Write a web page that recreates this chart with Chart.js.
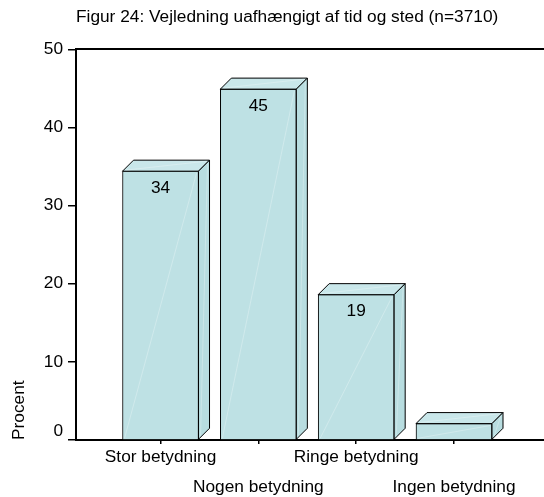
<!DOCTYPE html>
<html>
<head>
<meta charset="utf-8">
<script src="https://cdn.jsdelivr.net/npm/chart.js@4/dist/chart.umd.min.js"></script>
<style>
  html, body { margin: 0; padding: 0; background: #fff; }
  #wrap { width: 544px; height: 497px; }
</style>
</head>
<body>
<div id="wrap"><canvas id="chart" width="544" height="497"></canvas></div>
<script>
// ── Data ─────────────────────────────────────────────────
const categories = ['Stor betydning', 'Nogen betydning', 'Ringe betydning', 'Ingen betydning'];
const catPos     = [1, 2, 3, 4];
const percent    = [34.4, 44.9, 18.6, 2.1];
const yTicks     = [0, 10, 20, 30, 40, 50];
const titleText  = 'Figur 24: Vejledning uafhængigt af tid og sted (n=3710)';
const yTitle     = 'Procent';

const FONT = 'Liberation Sans, Arial, Helvetica, sans-serif';
const faceFront = '#BEE1E4';
const faceTop   = '#C9E7EA';
const faceSide  = '#B8DDE0';
const DEPTH = 11;

// top/side faces + value labels, drawn on the bars Chart.js placed
const bar3d = {
  id: 'bar3d',
  afterDatasetsDraw(chart) {
    const ctx = chart.ctx;
    const meta = chart.getDatasetMeta(0);
    ctx.save();
    ctx.lineJoin = 'miter';
    meta.data.forEach((bar, i) => {
      const { x, y, base, width } = bar.getProps(['x', 'y', 'base', 'width'], true);
      const x0 = x - width / 2, x1 = x + width / 2, d = DEPTH;

      ctx.lineWidth = 1;
      ctx.strokeStyle = '#000';
      // top face
      ctx.beginPath();
      ctx.moveTo(x0, y); ctx.lineTo(x0 + d, y - d); ctx.lineTo(x1 + d, y - d); ctx.lineTo(x1, y);
      ctx.closePath();
      ctx.fillStyle = faceTop; ctx.fill(); ctx.stroke();
      // side face
      ctx.beginPath();
      ctx.moveTo(x1, y); ctx.lineTo(x1 + d, y - d); ctx.lineTo(x1 + d, base - d); ctx.lineTo(x1, base);
      ctx.closePath();
      ctx.fillStyle = faceSide; ctx.fill(); ctx.stroke();

      // faint shading seams like the original export
      ctx.strokeStyle = 'rgba(255,255,255,0.35)';
      ctx.lineWidth = 0.8;
      ctx.beginPath();
      ctx.moveTo(x0 + 2, base - 1); ctx.lineTo(x1 - 2, y + 2);
      ctx.moveTo(x1 + 2, base - 3); ctx.lineTo(x1 + d - 2, y - d + 3);
      ctx.moveTo(x0 + 3, y - 1); ctx.lineTo(x1 + d - 3, y - d + 1);
      ctx.stroke();

      // value label (only where it fits inside the bar)
      if (base - y > 40) {
        ctx.fillStyle = '#000';
        ctx.font = '17.3px ' + FONT;
        ctx.textAlign = 'center';
        ctx.textBaseline = 'middle';
        ctx.fillText(String(Math.round(percent[i])), x, y + 17);
      }
    });
    ctx.restore();
  }
};

new Chart(document.getElementById('chart'), {
  type: 'bar',
  data: {
    datasets: [{
      data: catPos.map((p, i) => ({ x: p, y: percent[i] })),
      xAxisID: 'x',
      yAxisID: 'y',
      backgroundColor: faceFront,
      borderColor: '#000',
      borderWidth: 1,
      borderSkipped: 'start',
      barThickness: 76,
    }]
  },
  options: {
    responsive: false,
    animation: false,
    layout: { padding: 0 },
    plugins: {
      legend: { display: false },
      tooltip: { enabled: false },
      title: {
        display: true, text: titleText, align: 'start', fullSize: false, color: '#000',
        font: { family: FONT, size: 17.3, weight: 'normal' },
        padding: { top: 7, bottom: 21.5 }
      }
    },
    scales: {
      x: {
        type: 'linear', position: 'bottom', min: 0.136, max: 4.92, offset: false,
        afterBuildTicks: s => { s.ticks = catPos.map(v => ({ value: v })); },
        afterFit: s => { s.height = 57; },
        grid: { display: true, drawOnChartArea: false, offset: false, tickLength: 4, color: '#000', lineWidth: 1.5 },
        border: { display: true, color: '#000', width: 2 },
        ticks: {
          autoSkip: false, maxRotation: 0, minRotation: 0, padding: -1, color: '#000',
          font: { family: FONT, size: 17.3, lineHeight: 1.7 },
          callback: (v, i) => i % 2 ? ['', categories[v - 1]] : categories[v - 1]
        }
      },
      xTop: {
        type: 'linear', position: 'top', min: 0, max: 1,
        ticks: { display: false },
        grid: { display: false, drawTicks: false },
        border: { display: true, color: '#000', width: 2 }
      },
      y: {
        type: 'linear', min: 0, max: 50,
        afterBuildTicks: s => { s.ticks = yTicks.map(v => ({ value: v })); },
        afterFit: s => { s.width = 76; },
        grid: { display: true, drawOnChartArea: false, tickLength: 8, color: '#000', lineWidth: 1.5 },
        border: { display: true, color: '#000', width: 2 },
        ticks: {
          padding: 5, color: '#000',
          font: { family: FONT, size: 17.3, lineHeight: 1 },
          callback: v => v === 0 ? ['0', ''] : String(v)
        },
        title: {
          display: true, text: yTitle, align: 'start', color: '#000',
          font: { family: FONT, size: 17.3 },
          padding: { top: 9, bottom: 15 }
        }
      }
    }
  },
  plugins: [bar3d]
});
</script>
</body>
</html>
